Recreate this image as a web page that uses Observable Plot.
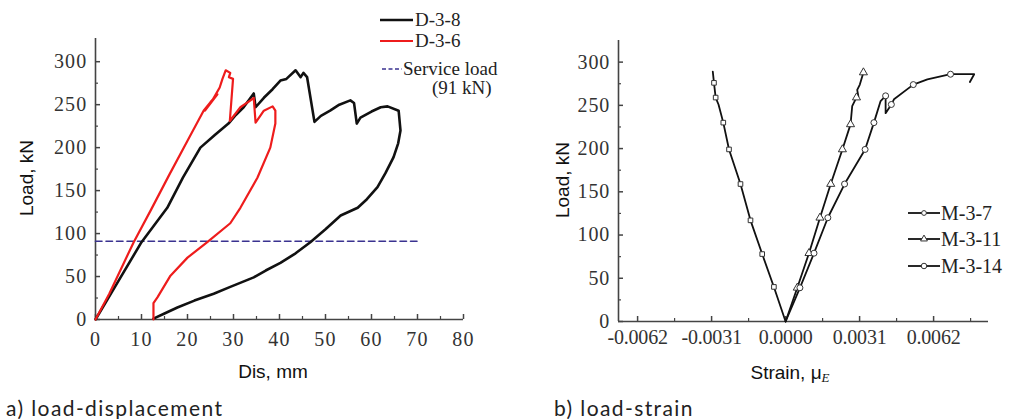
<!DOCTYPE html>
<html><head><meta charset="utf-8">
<script src="https://cdn.jsdelivr.net/npm/d3@7"></script>
<script src="https://cdn.jsdelivr.net/npm/@observablehq/plot@0.6"></script>
<style>
body{margin:0;background:#fff;}
#wrap{position:relative;width:1014px;height:419px;overflow:hidden;background:#fff;}
.panel{position:absolute;top:0;}
.pa g[aria-label="x-axis tick label"] text, .pa g[aria-label="y-axis tick label"] text{letter-spacing:1.2px;}
.pb g[aria-label="y-axis tick label"] text{letter-spacing:0.8px;}
.pb g[aria-label="x-axis tick label"] text{letter-spacing:-0.2px;}
.ttl{position:absolute;font-family:"Liberation Sans",Arial,sans-serif;font-size:19px;color:#111;white-space:nowrap;transform:translate(-50%,-50%);}
.rot{transform:translate(-50%,-50%) rotate(-90deg);}
.cap{position:absolute;font-family:Lato,"Noto Sans",sans-serif;font-size:21px;line-height:1.2;color:#222;white-space:nowrap;letter-spacing:1.4px;}
.leg{position:absolute;font-family:"Liberation Serif",serif;color:#222;white-space:nowrap;}
.leg svg{position:absolute;overflow:visible;}
.leg span{position:absolute;}
</style></head>
<body><div id="wrap"></div>
<script>
// ---------- Panel a) load-displacement ----------
const d38Dis = [0, 5, 10, 15.6, 19, 22.8, 26, 28.9, 30.5, 32.2, 34.4, 34.8, 36.6, 38.5, 40.2, 41.5, 43.5, 44.6, 45.2, 46, 47.6, 49, 51, 53, 55.4, 56.2, 56.8, 57.6, 60, 62, 63.5, 65.9, 66.3, 65.8, 64.8, 63, 61.3, 59, 57, 53.3, 50, 46.7, 43.5, 40.2, 37, 34.4, 29.3, 25.7, 21.5, 17.8, 15, 12.6];
const d38Load = [0, 45, 90, 130, 165, 200, 215, 228, 238, 247, 263, 247, 258, 268, 278, 280, 290, 282, 287, 282, 230, 237, 243, 250, 255, 252, 228, 235, 242, 247, 248, 243, 220, 205, 189, 170, 154, 140, 130, 121, 105, 90, 77, 66, 57, 49, 38, 30, 22, 14, 7, 1];
const d36Dis = [0, 3, 8.3, 12, 16, 20, 23.5, 25, 26.5, 23.8, 25.4, 27, 27.6, 28.3, 29.3, 29, 29.9, 29.2, 31.5, 33.7, 34.4, 34.8, 36.6, 38.5, 39.1, 39.1, 38, 35.2, 31.5, 29.3, 24.3, 20, 16.3, 13.5, 12.6, 12.6];
const d36Load = [0, 30, 90, 127, 168, 208, 243, 253, 262, 243, 255, 270, 280, 290, 287, 282, 280, 231, 247, 255, 258, 229, 243, 248, 243, 228, 200, 165, 130, 112, 90, 72, 51, 26, 19, 0];
const serviceDis = [0, 70];
const serviceLoad = [91, 91];
const disTicks = [0, 10, 20, 30, 40, 50, 60, 70, 80];
const disMinor = [5, 15, 25, 35, 45, 55, 65, 75];
const loadTicks = [0, 50, 100, 150, 200, 250, 300];
const loadMinor = [25, 75, 125, 175, 225, 275];

// ---------- Panel b) load-strain ----------
const m37Strain = [0, -0.00049, -0.00098, -0.00147, -0.00189, -0.00237, -0.00261, -0.00281, -0.00293, -0.00300, -0.00305];
const m37Load = [0, 40, 78, 117, 159, 199, 230, 251, 259, 276, 289];
const m37MarkStrain = [-0.00049, -0.00098, -0.00147, -0.00189, -0.00237, -0.00261, -0.00293, -0.00300];
const m37MarkLoad = [40, 78, 117, 159, 199, 230, 259, 276];
const m311Strain = [0, 0.00049, 0.00098, 0.00144, 0.00189, 0.00238, 0.00272, 0.00279, 0.00295, 0.00305, 0.00300, 0.00311, 0.00326];
const m311Load = [0, 39, 79, 120, 159, 199, 228, 249, 258, 260, 268, 274, 288];
const m311MarkStrain = [0.00049, 0.00098, 0.00144, 0.00189, 0.00238, 0.00272, 0.00297, 0.00326];
const m311MarkLoad = [39, 79, 120, 159, 199, 228, 259, 288];
const m314Strain = [0, 0.0006, 0.00119, 0.00177, 0.00247, 0.00333, 0.0037, 0.00398, 0.00419, 0.00419, 0.00443, 0.00454, 0.00535, 0.00594, 0.00691, 0.0079, 0.00772];
const m314Load = [0, 39, 79, 120, 159, 199, 230, 255, 261, 241, 251, 257, 274, 280, 286, 286, 277];
const m314MarkStrain = [0.0006, 0.00119, 0.00177, 0.00247, 0.00333, 0.0037, 0.00419, 0.00443, 0.00535, 0.00691];
const m314MarkLoad = [39, 79, 120, 159, 199, 230, 261, 251, 274, 286];
const strainTicks = [-0.0062, -0.0031, 0, 0.0031, 0.0062];
const strainLabels = ["-0.0062", "-0.0031", "0.0000", "0.0031", "0.0062"];
const strainMinor = [-0.00465, -0.00155, 0.00155, 0.00465, 0.00775];

const zip = (xs, ys) => xs.map((x, i) => ({x, y: ys[i]}));
const axisCol = "#444";
const style = {fontFamily: "'Liberation Serif', 'Times New Roman', serif", fontSize: "20px", color: "#333", background: "transparent", overflow: "visible"};

const wrap = document.getElementById("wrap");

const plotA = Plot.plot({
  width: 540, height: 390,
  marginLeft: 95, marginRight: 77, marginTop: 38, marginBottom: 71,
  x: {domain: [0, 80]},
  y: {domain: [0, 327]},
  style,
  marks: [
    Plot.ruleY([0], {stroke: axisCol, strokeWidth: 1.6}),
    Plot.ruleX([0], {stroke: axisCol, strokeWidth: 1.6}),
    Plot.axisX(disTicks, {tickSize: -5, tickPadding: 17, label: null, stroke: axisCol, strokeWidth: 1.5}),
    Plot.axisX(disMinor, {tickSize: -3, tickFormat: () => "", label: null, stroke: axisCol, strokeWidth: 1.2}),
    Plot.axisY(loadTicks, {tickSize: -5, tickPadding: 13, label: null, stroke: axisCol, strokeWidth: 1.5}),
    Plot.axisY(loadMinor, {tickSize: -3, tickFormat: () => "", label: null, stroke: axisCol, strokeWidth: 1.2}),
    Plot.line(zip(serviceDis, serviceLoad), {x: "x", y: "y", stroke: "#3a3290", strokeWidth: 1.6, strokeDasharray: "6.5,4"}),
    Plot.line(zip(d38Dis, d38Load), {x: "x", y: "y", stroke: "#111", strokeWidth: 2.6, strokeLinejoin: "round"}),
    Plot.line(zip(d36Dis, d36Load), {x: "x", y: "y", stroke: "#ee1c1c", strokeWidth: 2.2, strokeLinejoin: "round"})
  ]
});
plotA.classList.add("panel", "pa");
plotA.style.left = "0px";
wrap.appendChild(plotA);

const plotB = Plot.plot({
  width: 474, height: 390,
  marginLeft: 78, marginRight: 26, marginTop: 40, marginBottom: 69,
  x: {domain: [-0.0070, 0.0085]},
  y: {domain: [0, 325]},
  style,
  marks: [
    Plot.ruleY([0], {stroke: axisCol, strokeWidth: 1.6}),
    Plot.ruleX([-0.0070], {stroke: axisCol, strokeWidth: 1.6}),
    Plot.axisX(strainTicks, {tickSize: -5, tickPadding: 13, label: null, stroke: axisCol, strokeWidth: 1.5, tickFormat: d => strainLabels[strainTicks.indexOf(d)]}),
    Plot.axisX(strainMinor, {tickSize: -3, tickFormat: () => "", label: null, stroke: axisCol, strokeWidth: 1.2}),
    Plot.axisY(loadTicks, {tickSize: -5, tickPadding: 13.5, label: null, stroke: axisCol, strokeWidth: 1.5}),
    Plot.axisY(loadMinor, {tickSize: -3, tickFormat: () => "", label: null, stroke: axisCol, strokeWidth: 1.2}),
    Plot.line(zip(m37Strain, m37Load), {x: "x", y: "y", stroke: "#111", strokeWidth: 1.8}),
    Plot.line(zip(m311Strain, m311Load), {x: "x", y: "y", stroke: "#111", strokeWidth: 1.8}),
    Plot.line(zip(m314Strain, m314Load), {x: "x", y: "y", stroke: "#111", strokeWidth: 1.8}),
    Plot.dot(zip(m37MarkStrain, m37MarkLoad), {x: "x", y: "y", symbol: "square", r: 2.6, fill: "#fff", stroke: "#333", strokeWidth: 1}),
    Plot.dot(zip(m311MarkStrain, m311MarkLoad), {x: "x", y: "y", symbol: "triangle", r: 3, fill: "#fff", stroke: "#333", strokeWidth: 1}),
    Plot.dot(zip(m314MarkStrain, m314MarkLoad), {x: "x", y: "y", symbol: "circle", r: 3, fill: "#fff", stroke: "#333", strokeWidth: 1})
  ]
});
plotB.classList.add("panel", "pb");
plotB.style.left = "540px";
wrap.appendChild(plotB);

// ---------- Titles and captions ----------
function addDiv(cls, html, left, top, extra) {
  const d = document.createElement("div");
  d.className = cls;
  d.innerHTML = html;
  d.style.left = left + "px";
  d.style.top = top + "px";
  if (extra) Object.assign(d.style, extra);
  wrap.appendChild(d);
  return d;
}
addDiv("ttl rot", "Load, kN", 27, 178);
addDiv("ttl", "Dis, mm", 273, 372);
addDiv("ttl rot", "Load, kN", 563, 180);
addDiv("ttl", "Strain, &mu;<i style=\"font-family:'Liberation Serif',serif;font-size:13px;position:relative;top:3px\">E</i>", 790, 373);
addDiv("cap", "a) load-displacement", 6, 395);
addDiv("cap", "b) load-strain", 554, 395);

// ---------- Legends ----------
function legendRow(x1, x2, yc, textLeft, label, size, lineStyle, symbol) {
  const g = document.createElement("div");
  g.className = "leg";
  g.style.left = "0px"; g.style.top = "0px";
  const ns = "http://www.w3.org/2000/svg";
  const svg = document.createElementNS(ns, "svg");
  svg.setAttribute("width", x2 - x1 + 10);
  svg.setAttribute("height", 14);
  svg.style.left = (x1 - 5) + "px";
  svg.style.top = (yc - 7) + "px";
  const ln = document.createElementNS(ns, "line");
  ln.setAttribute("x1", 5); ln.setAttribute("x2", x2 - x1 + 5);
  ln.setAttribute("y1", 7); ln.setAttribute("y2", 7);
  for (const k in lineStyle) ln.setAttribute(k, lineStyle[k]);
  svg.appendChild(ln);
  if (symbol) {
    const p = document.createElementNS(ns, "path");
    p.setAttribute("d", d3.symbol(symbol.type, symbol.size)());
    p.setAttribute("transform", `translate(${(x2 - x1) / 2 + 5},7)`);
    p.setAttribute("fill", "#fff"); p.setAttribute("stroke", "#333");
    svg.appendChild(p);
  }
  g.appendChild(svg);
  if (label) {
    const s = document.createElement("span");
    s.textContent = label;
    s.style.left = textLeft + "px";
    s.style.top = (yc - size * 0.6) + "px";
    s.style.fontSize = size + "px";
    s.style.lineHeight = (size * 1.2) + "px";
    g.appendChild(s);
  }
  wrap.appendChild(g);
}
legendRow(380, 413, 20, 415, "D-3-8", 19, {stroke: "#111", "stroke-width": 2.6});
legendRow(380, 413, 41, 415, "D-3-6", 19, {stroke: "#ee1c1c", "stroke-width": 2.2});
legendRow(382, 402, 69, 403, "Service load", 19, {stroke: "#3a3290", "stroke-width": 1.5, "stroke-dasharray": "4,2.5"});
legendRow(0, 0, 88, 432, "(91 kN)", 19, {stroke: "none"});
legendRow(908, 940, 213, 941, "M-3-7", 20, {stroke: "#111", "stroke-width": 1.8}, {type: d3.symbolCircle, size: 18});
legendRow(908, 940, 239, 941, "M-3-11", 20, {stroke: "#111", "stroke-width": 1.8}, {type: d3.symbolTriangle, size: 20});
legendRow(908, 940, 266, 941, "M-3-14", 20, {stroke: "#111", "stroke-width": 1.8}, {type: d3.symbolCircle, size: 24});
</script>
</body></html>
